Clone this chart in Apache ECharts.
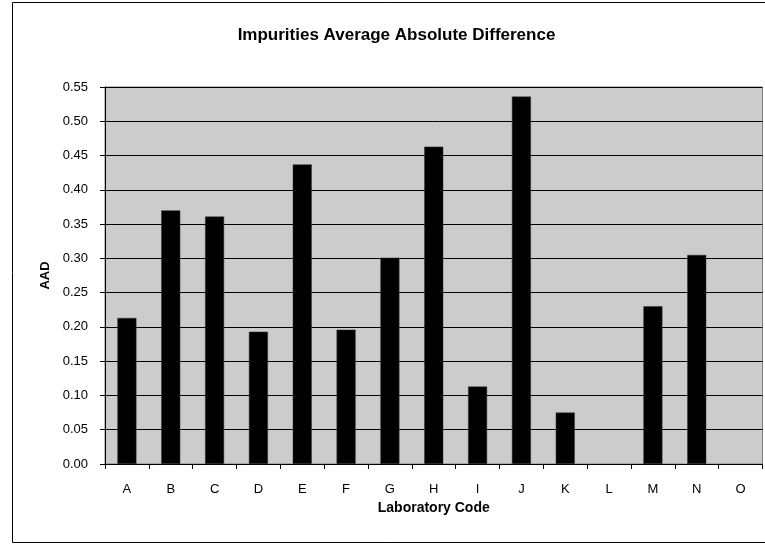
<!DOCTYPE html>
<html>
<head>
<meta charset="utf-8">
<script src="https://cdn.jsdelivr.net/npm/echarts@6/dist/echarts.min.js"></script>
<style>
  html, body { margin: 0; padding: 0; background: #ffffff; }
  #chart { width: 765px; height: 544px; }
</style>
</head>
<body>
<div id="chart"></div>
<script>
const titleText = 'Impurities Average Absolute Difference';
const xAxisName = 'Laboratory Code';
const yAxisName = 'AAD';
const categories = ['A','B','C','D','E','F','G','H','I','J','K','L','M','N','O'];
const aadValues = [0.213, 0.370, 0.361, 0.193, 0.437, 0.196, 0.301, 0.463, 0.113, 0.536, 0.075, null, 0.230, 0.305, null];
const yMin = 0, yMax = 0.55, yStep = 0.05;

const FONT = '"Liberation Sans", Arial, sans-serif';
const chart = echarts.init(document.getElementById('chart'), null, { renderer: 'canvas' });
chart.setOption({
  animation: false,
  backgroundColor: '#ffffff',
  graphic: [
    { type: 'rect', left: 12, top: 2, z: -10, silent: true,
      shape: { x: 0.5, y: 0.5, width: 770, height: 540 },
      style: { fill: '#ffffff', stroke: '#000000', lineWidth: 1 } },
    { type: 'text', x: 396.5, y: 35.5, z: 10,
      style: { text: titleText, align: 'center', verticalAlign: 'middle',
               font: 'bold 17px ' + FONT, fill: '#000000' } }
  ],
  grid: {
    left: 105, right: 2.5, top: 87, bottom: 80,
    show: true, backgroundColor: '#cccccc', borderColor: '#808080', borderWidth: 1,
    containLabel: false
  },
  xAxis: {
    type: 'category',
    data: categories,
    name: xAxisName,
    nameLocation: 'middle',
    nameGap: 35,
    nameTextStyle: { fontFamily: FONT, fontSize: 14, fontWeight: 'bold', color: '#000' },
    axisLine: { show: true, lineStyle: { color: '#000', width: 1 } },
    axisTick: { show: true, length: 5, lineStyle: { color: '#000' } },
    axisLabel: { margin: 19, fontFamily: FONT, fontSize: 13, color: '#000' },
    splitLine: { show: false }
  },
  yAxis: {
    type: 'value',
    min: yMin, max: yMax, interval: yStep,
    name: yAxisName,
    nameLocation: 'middle',
    nameGap: 46,
    nameRotate: 90,
    nameTextStyle: { fontFamily: FONT, fontSize: 13, fontWeight: 'bold', color: '#000' },
    axisLine: { show: true, lineStyle: { color: '#000', width: 1 } },
    axisTick: { show: true, length: 5, lineStyle: { color: '#000' } },
    axisLabel: { margin: 17, fontFamily: FONT, fontSize: 13, color: '#000',
                 formatter: v => v.toFixed(2) },
    splitLine: { show: true, lineStyle: { color: '#000', width: 1 } }
  },
  series: [{
    type: 'bar',
    data: aadValues,
    barWidth: 19,
    itemStyle: { color: '#000000', borderColor: '#333333', borderWidth: 0.5 }
  }]
});
</script>
</body>
</html>
